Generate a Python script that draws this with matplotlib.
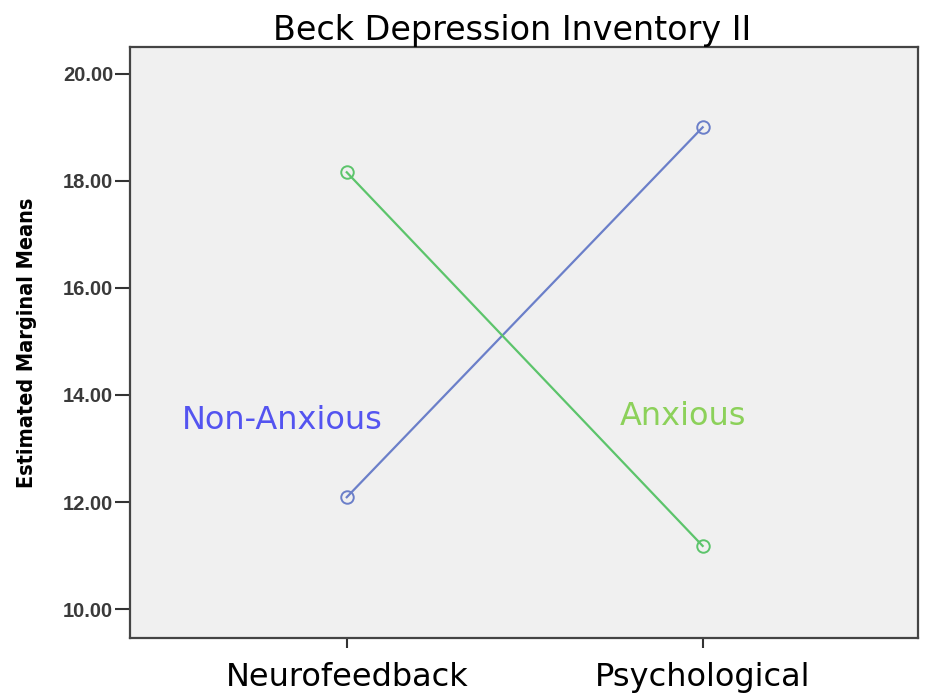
import matplotlib.pyplot as plt

# data
groups = ['Neurofeedback', 'Psychological']
non_anxious = [12.09, 19.0]
anxious = [18.16, 11.18]
y_ticks = [10, 12, 14, 16, 18, 20]

fig = plt.figure(figsize=(9.25, 6.93), dpi=100)
ax = fig.add_axes([130/925, 1-638/693, (918-130)/925, (638-47)/693])
ax.set_facecolor('#f0f0f0')

x = range(len(groups))
ax.plot(x, non_anxious, color='#6b7fc9', linewidth=1.6, marker='o',
        markersize=9, fillstyle='none', markeredgewidth=1.4)
ax.plot(x, anxious, color='#5cc46b', linewidth=1.6, marker='o',
        markersize=9, fillstyle='none', markeredgewidth=1.4)

ax.text(-0.18, 13.53, 'Non-Anxious', color='#5454f0', fontsize=23,
        ha='center', va='center')
ax.text(0.945, 13.6, 'Anxious', color='#8cd15a', fontsize=23,
        ha='center', va='center')

ax.set_xlim(-0.609, 1.605)
ax.set_ylim(9.46, 20.5)
ax.set_xticks(list(x))
ax.set_xticklabels(groups, fontsize=23)
ax.set_yticks(y_ticks)
ax.set_yticklabels(['%.2f' % v for v in y_ticks], fontsize=14.5,
                   fontweight='bold', color='#3a3a3a', family='Liberation Sans')
ax.tick_params(axis='y', length=11, width=1.5, color='#333333', pad=1)
ax.tick_params(axis='x', length=7, width=1.5, color='#333333', pad=10)
for s in ax.spines.values():
    s.set_color('#444444')
    s.set_linewidth(1.6)

ax.set_ylabel('Estimated Marginal Means', fontsize=15.5, fontweight='heavy',
              fontstretch='condensed', labelpad=19)
ax.set_title('Beck Depression Inventory II', fontsize=24, pad=5, x=0.485)

fig.savefig('out.png')
